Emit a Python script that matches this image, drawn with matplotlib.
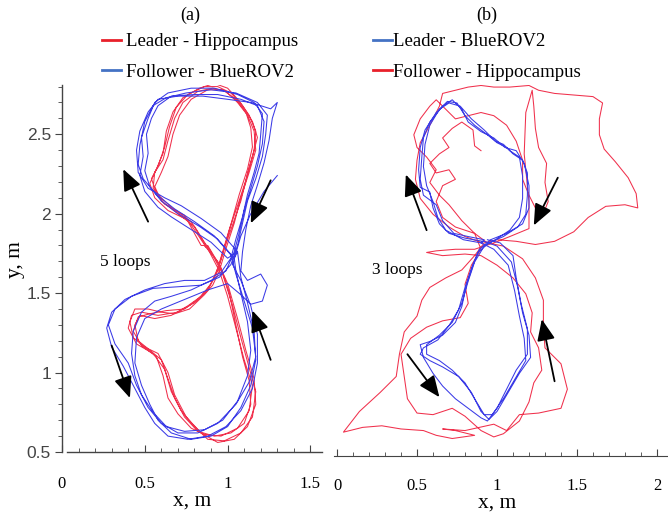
import numpy as np
import matplotlib.pyplot as plt
from matplotlib.lines import Line2D
from matplotlib.ticker import MultipleLocator

RED = '#F0304C'
BLUE = '#3A3AE6'

# (a) Leader - Hippocampus, 4 loops (x, y in m)
hippo_a_1 = [(0.88,1.78),(0.78,1.95),(0.66,2.04),(0.57,2.13),(0.54,2.22),(0.58,2.30),(0.62,2.42),(0.65,2.55),
             (0.69,2.67),(0.76,2.75),(0.86,2.80),(0.94,2.80),(1.02,2.76),(1.09,2.68),(1.15,2.58),(1.18,2.48),
             (1.15,2.36),(1.11,2.21),(1.06,2.05),(1.01,1.90),(0.97,1.76),(0.93,1.62),(0.88,1.52),(0.80,1.44),
             (0.70,1.38),(0.58,1.36),(0.48,1.38),(0.42,1.36),(0.40,1.28),(0.45,1.18),(0.55,1.12),(0.62,1.02),
             (0.66,0.88),(0.72,0.76),(0.80,0.66),(0.88,0.58),(0.98,0.57),(1.08,0.62),(1.15,0.72),(1.17,0.88),
             (1.13,1.03),(1.08,1.22),(1.03,1.42),(0.97,1.62),(0.90,1.76)]
hippo_a_2 = [(0.86,1.82),(0.80,1.92),(0.70,2.00),(0.60,2.08),(0.56,2.17),(0.60,2.26),(0.64,2.36),(0.67,2.50),
             (0.71,2.62),(0.78,2.72),(0.88,2.78),(0.97,2.78),(1.05,2.72),(1.11,2.64),(1.14,2.54),(1.15,2.42),
             (1.12,2.28),(1.07,2.12),(1.03,1.97),(0.99,1.82),(0.95,1.68),(0.90,1.56),(0.84,1.48),(0.76,1.42),
             (0.66,1.36),(0.56,1.34),(0.47,1.36),(0.44,1.30),(0.46,1.20),(0.52,1.15),(0.60,1.08),(0.64,0.96),
             (0.68,0.84),(0.74,0.72),(0.82,0.63),(0.92,0.60),(1.02,0.62),(1.10,0.68),(1.14,0.80),(1.13,0.95),
             (1.09,1.10),(1.05,1.30),(1.01,1.50),(0.96,1.66),(0.88,1.80)]
hippo_a_3 = [(0.84,1.80),(0.74,1.99),(0.62,2.06),(0.55,2.16),(0.56,2.26),(0.61,2.34),(0.64,2.46),(0.68,2.60),
             (0.73,2.70),(0.82,2.77),(0.91,2.79),(0.99,2.77),(1.06,2.70),(1.12,2.62),(1.16,2.52),(1.17,2.40),
             (1.13,2.26),(1.08,2.10),(1.04,1.94),(0.99,1.78),(0.95,1.64),(0.91,1.55),(0.86,1.49),(0.77,1.40),
             (0.68,1.37),(0.60,1.38),(0.52,1.40),(0.44,1.40),(0.41,1.32),(0.43,1.22),(0.50,1.16),(0.58,1.12),
             (0.64,1.00),(0.68,0.86),(0.75,0.72),(0.84,0.62),(0.94,0.56),(1.04,0.58),(1.12,0.66),(1.17,0.80),
             (1.16,0.96),(1.11,1.14),(1.06,1.34),(1.00,1.56),(0.94,1.70),(0.86,1.80)]
hippo_a_4 = [(0.87,1.79),(0.76,1.96),(0.64,2.02),(0.56,2.10),(0.53,2.19),(0.57,2.28),(0.61,2.38),(0.63,2.52),
             (0.67,2.64),(0.73,2.73),(0.83,2.79),(0.92,2.82),(1.00,2.79),(1.07,2.71),(1.13,2.62),(1.17,2.52),
             (1.16,2.40),(1.12,2.25),(1.08,2.08),(1.03,1.93),(0.98,1.78),(0.94,1.64),(0.89,1.54),(0.82,1.46),
             (0.74,1.40),(0.63,1.39),(0.53,1.37),(0.46,1.35),(0.43,1.26),(0.48,1.17),(0.57,1.10),(0.61,0.98),
             (0.64,0.84),(0.70,0.74),(0.78,0.65),(0.86,0.61),(0.96,0.60),(1.06,0.65),(1.13,0.76),(1.15,0.92),
             (1.10,1.08),(1.05,1.28),(1.00,1.48),(0.95,1.64),(0.88,1.78)]

# (a) Follower - BlueROV2
rov_a_1 = [(1.02,1.74),(0.92,1.86),(0.80,1.95),(0.68,2.03),(0.57,2.12),(0.49,2.22),(0.46,2.31),(0.47,2.43),
           (0.50,2.58),(0.55,2.68),(0.63,2.73),(0.75,2.76),(0.90,2.78),(1.05,2.76),(1.18,2.70),(1.24,2.62),
           (1.23,2.50),(1.21,2.36),(1.17,2.22),(1.12,2.08),(1.09,1.94),(1.06,1.80),(1.02,1.68),(0.95,1.60),
           (0.84,1.55),(0.70,1.54),(0.55,1.53),(0.42,1.48),(0.32,1.40),(0.28,1.30),(0.32,1.18),(0.40,1.06),
           (0.45,0.92),(0.52,0.78),(0.60,0.68),(0.70,0.62),(0.82,0.62),(0.94,0.68),(1.05,0.80),(1.13,0.94),
           (1.17,1.10),(1.15,1.28),(1.10,1.45),(1.05,1.62),(1.02,1.74)]
rov_a_2 = [(1.04,1.72),(0.94,1.84),(0.83,1.92),(0.70,2.00),(0.60,2.08),(0.53,2.17),(0.50,2.27),(0.52,2.38),
           (0.51,2.50),(0.54,2.60),(0.58,2.68),(0.66,2.74),(0.80,2.75),(0.94,2.75),(1.08,2.72),(1.18,2.68),
           (1.22,2.58),(1.21,2.44),(1.18,2.30),(1.14,2.16),(1.10,2.02),(1.07,1.88),(1.04,1.76),(0.99,1.64),
           (0.90,1.58),(0.78,1.52),(0.66,1.48),(0.56,1.45),(0.48,1.38),(0.43,1.26),(0.42,1.12),(0.44,0.98),
           (0.48,0.86),(0.55,0.75),(0.63,0.66),(0.74,0.63),(0.86,0.64),(0.97,0.70),(1.06,0.82),(1.12,0.98),
           (1.14,1.14),(1.12,1.32),(1.08,1.50),(1.05,1.64),(1.04,1.72)]
rov_a_3 = [(1.06,1.76),(0.96,1.88),(0.84,1.97),(0.72,2.05),(0.62,2.10),(0.52,2.16),(0.46,2.26),(0.45,2.40),
           (0.47,2.52),(0.52,2.64),(0.58,2.72),(0.70,2.74),(0.85,2.74),(1.00,2.72),(1.14,2.70),(1.26,2.66),
           (1.30,2.70),(1.27,2.60),(1.25,2.46),(1.22,2.32),(1.18,2.18),(1.14,2.05),(1.11,1.90),(1.09,1.76),
           (1.08,1.64),(1.12,1.58),(1.20,1.62),(1.24,1.55),(1.21,1.45),(1.14,1.43),(1.08,1.49),(1.00,1.56),
           (0.88,1.52),(0.74,1.46),(0.60,1.40),(0.50,1.34),(0.45,1.22),(0.44,1.06),(0.48,0.92),(0.53,0.80),
           (0.58,0.70),(0.66,0.62),(0.78,0.58),(0.90,0.60),(1.00,0.66),(1.08,0.78),(1.14,0.92),(1.17,1.08),
           (1.16,1.26),(1.12,1.44),(1.08,1.60),(1.06,1.76)]
rov_a_4 = [(1.00,1.72),(0.90,1.82),(0.78,1.90),(0.66,1.98),(0.58,2.04),(0.50,2.14),(0.47,2.24),(0.49,2.36),
           (0.48,2.48),(0.52,2.60),(0.56,2.70),(0.64,2.76),(0.78,2.79),(0.92,2.79),(1.06,2.75),(1.16,2.70),
           (1.21,2.63),(1.20,2.50),(1.19,2.38),(1.16,2.26),(1.12,2.12),(1.09,1.98),(1.05,1.84),(1.02,1.72),
           (0.96,1.63),(0.86,1.58),(0.74,1.58),(0.62,1.56),(0.50,1.52),(0.38,1.46),(0.30,1.38),(0.27,1.28),
           (0.30,1.16),(0.37,1.04),(0.44,0.90),(0.50,0.78),(0.56,0.68),(0.64,0.60),(0.76,0.58),(0.88,0.60),
           (0.99,0.66),(1.08,0.76),(1.15,0.90),(1.18,1.06),(1.18,1.24),(1.14,1.42),(1.08,1.58),(1.03,1.68),
           (1.08,1.86),(1.14,2.00),(1.22,2.14),(1.30,2.24)]

# (b) Leader - BlueROV2, 3 loops
rov_b_1 = [(0.91,1.85),(0.80,1.87),(0.70,1.90),(0.64,1.96),(0.60,2.06),(0.58,2.16),(0.52,2.19),(0.51,2.30),
           (0.52,2.44),(0.55,2.55),(0.62,2.66),(0.69,2.73),(0.75,2.72),(0.80,2.64),(0.86,2.58),(0.94,2.52),
           (1.00,2.47),(1.06,2.44),(1.10,2.40),(1.16,2.36),(1.19,2.28),(1.19,2.14),(1.18,2.02),(1.13,1.94),
           (1.04,1.88),(0.95,1.84),(0.88,1.78),(0.84,1.68),(0.80,1.56),(0.76,1.42),(0.70,1.32),(0.63,1.23),
           (0.54,1.18),(0.52,1.14),(0.58,1.10),(0.66,1.06),(0.76,1.00),(0.84,0.90),(0.90,0.78),(0.95,0.73),
           (1.00,0.78),(1.07,0.90),(1.14,1.02),(1.21,1.12),(1.20,1.26),(1.16,1.40),(1.13,1.56),(1.09,1.72),
           (1.00,1.82),(0.92,1.85)]
rov_b_2 = [(0.90,1.84),(0.79,1.86),(0.68,1.92),(0.63,2.00),(0.60,2.10),(0.56,2.20),(0.54,2.32),(0.55,2.46),
           (0.58,2.58),(0.64,2.68),(0.70,2.72),(0.77,2.70),(0.84,2.62),(0.92,2.55),(0.99,2.48),(1.04,2.46),
           (1.08,2.42),(1.14,2.38),(1.16,2.26),(1.16,2.12),(1.14,2.00),(1.08,1.92),(0.99,1.86),(0.92,1.82),
           (0.86,1.72),(0.82,1.60),(0.78,1.46),(0.72,1.34),(0.64,1.26),(0.56,1.20),(0.56,1.14),(0.64,1.10),
           (0.72,1.04),(0.80,0.96),(0.86,0.86),(0.92,0.76),(0.97,0.76),(1.04,0.86),(1.11,0.98),(1.18,1.10),
           (1.17,1.24),(1.14,1.38),(1.11,1.54),(1.07,1.70),(0.98,1.80),(0.90,1.84)]
rov_b_3 = [(0.92,1.86),(0.82,1.88),(0.73,1.90),(0.66,1.98),(0.62,2.08),(0.54,2.14),(0.52,2.24),(0.53,2.38),
           (0.54,2.50),(0.58,2.60),(0.66,2.70),(0.72,2.74),(0.78,2.68),(0.82,2.60),(0.90,2.54),(0.98,2.50),
           (1.05,2.44),(1.12,2.42),(1.17,2.34),(1.20,2.20),(1.20,2.06),(1.16,1.96),(1.06,1.90),(0.96,1.86),
           (0.89,1.80),(0.85,1.70),(0.81,1.58),(0.78,1.44),(0.74,1.34),(0.66,1.26),(0.58,1.22),(0.52,1.20),
           (0.54,1.12),(0.60,1.02),(0.66,0.94),(0.74,0.86),(0.82,0.80),(0.90,0.74),(0.94,0.72),(1.00,0.80),
           (1.06,0.92),(1.12,1.04),(1.19,1.14),(1.19,1.30),(1.15,1.46),(1.12,1.62),(1.10,1.76),(1.02,1.84),
           (0.94,1.86)]

# (b) Follower - Hippocampus, one wandering track
hippo_b = [(0.91,1.84),(0.80,1.88),(0.70,1.94),(0.60,2.02),(0.52,2.12),(0.49,2.24),(0.50,2.36),(0.52,2.47),
           (0.58,2.58),(0.64,2.70),(0.66,2.78),(0.74,2.80),(0.82,2.82),(0.90,2.83),(0.98,2.82),(1.08,2.82),
           (1.20,2.83),(1.26,2.80),(1.36,2.78),(1.48,2.77),(1.60,2.76),(1.66,2.72),(1.64,2.62),(1.64,2.52),
           (1.67,2.43),(1.74,2.35),(1.82,2.25),(1.87,2.15),(1.88,2.06),(1.80,2.08),(1.68,2.07),(1.57,2.00),
           (1.48,1.91),(1.36,1.85),(1.24,1.83),(1.12,1.85),(1.00,1.86),(0.92,1.84),
           (0.86,1.76),(0.78,1.67),(0.68,1.62),(0.58,1.56),(0.53,1.48),(0.50,1.38),(0.42,1.28),(0.39,1.14),
           (0.37,1.00),(0.27,0.90),(0.14,0.78),(0.04,0.65),(0.16,0.68),(0.28,0.69),(0.40,0.67),(0.54,0.66),
           (0.62,0.63),(0.72,0.61),(0.86,0.63),(0.74,0.66),(0.66,0.67),(0.80,0.66),(0.98,0.70),(1.06,0.66),
           (1.14,0.76),(1.26,0.77),(1.40,0.80),(1.44,0.92),(1.40,1.08),(1.30,1.18),(1.29,1.32),(1.29,1.48),
           (1.24,1.62),(1.16,1.74),(1.04,1.82),(0.94,1.84),
           (0.86,1.90),(0.78,1.98),(0.70,2.08),(0.64,2.14),(0.58,2.22),(0.62,2.30),(0.56,2.38),(0.50,2.44),
           (0.48,2.52),(0.52,2.62),(0.58,2.70),(0.62,2.74),(0.68,2.68),(0.74,2.62),(0.82,2.64),(0.90,2.66),
           (0.98,2.64),(1.06,2.58),(1.12,2.48),(1.16,2.36),(1.16,2.24),(1.20,2.14),(1.24,2.06),(1.28,2.00),
           (1.32,2.10),(1.30,2.22),(1.31,2.34),(1.26,2.44),(1.24,2.56),(1.23,2.70),(1.22,2.80),(1.18,2.66),
           (1.17,2.40),(1.20,2.10),(1.20,1.93),(1.08,1.88),(0.98,1.84),
           (0.86,1.80),(0.74,1.80),(0.62,1.79),(0.56,1.78),(0.66,1.76),(0.80,1.77),(0.90,1.76),(1.00,1.70),
           (1.10,1.62),(1.18,1.52),(1.22,1.40),(1.21,1.28),(1.26,1.18),(1.28,1.04),(1.23,0.96),(1.20,0.84),
           (1.14,0.72),(1.04,0.64),(0.98,0.62),(0.90,0.66),(0.80,0.75),(0.72,0.80),(0.60,0.76),(0.50,0.77),
           (0.44,0.86),(0.42,1.00),(0.40,1.14),(0.46,1.24),(0.56,1.31),(0.66,1.35),(0.77,1.37),(0.82,1.46),
           (0.80,1.58),(0.84,1.70),(0.90,1.80),
           (0.86,1.90),(0.74,1.94),(0.66,2.00),(0.62,2.10),(0.66,2.20),(0.74,2.24),(0.70,2.30),(0.62,2.28),
           (0.58,2.34),(0.64,2.40),(0.70,2.44),(0.66,2.50),(0.72,2.56),(0.78,2.60),(0.85,2.55),(0.86,2.45),
           (0.90,2.42)]

# travel direction arrows: (tail x, tail y, head x, head y)
arrows_a = [(0.52,1.95,0.37,2.28),(1.26,2.21,1.14,1.94),(1.26,1.08,1.15,1.39),(0.30,1.17,0.41,0.84)]
arrows_b = [(0.56,1.92,0.43,2.27),(1.38,2.25,1.23,1.95),(1.36,0.97,1.28,1.36),(0.44,1.14,0.64,0.87)]


def track(loops):
    pts = np.vstack([np.array(l) for l in loops])
    return pts[:, 0], pts[:, 1]


def draw_arrows(ax, arrows):
    for x0, y0, x1, y1 in arrows:
        ax.annotate('', xy=(x1, y1), xytext=(x0, y0),
                    arrowprops=dict(arrowstyle='-|>,head_length=1.3,head_width=0.55',
                                    color='k', lw=1.3, shrinkA=0, shrinkB=0))


fig = plt.figure(figsize=(6.68, 5.12), dpi=100)
serif = 'Liberation Serif'

# ---- panel (a)
ax1 = fig.add_axes([62/668, 60/512, 260/668, 367/512])
x, y = track([hippo_a_1, hippo_a_2, hippo_a_3, hippo_a_4])
ax1.plot(x, y, color=RED, lw=0.75)
x, y = track([rov_a_1, rov_a_2, rov_a_3, rov_a_4])
ax1.plot(x, y, color=BLUE, lw=0.75)
draw_arrows(ax1, arrows_a)
ax1.text(0.23, 1.695, '5 loops', family=serif, fontsize=12.5, va='center')

ax1.set_xlim(0, 1.57)
ax1.set_ylim(0.5, 2.81)
for s in ['top', 'right']:
    ax1.spines[s].set_visible(False)
ax1.spines['bottom'].set_bounds(0.03, 1.57)
for s in ['left', 'bottom']:
    ax1.spines[s].set_color('#444444')
    ax1.spines[s].set_linewidth(1.0)
ax1.xaxis.set_minor_locator(MultipleLocator(0.1))
ax1.yaxis.set_minor_locator(MultipleLocator(0.1))
ax1.set_xticks([0, 0.5, 1, 1.5])
ax1.set_xticklabels(['0', '0.5', '1', '1.5'], family=serif, fontsize=12)
ax1.set_yticks([0.5, 1, 1.5, 2, 2.5])
ax1.set_yticklabels(['0.5', '1', '1.5', '2', '2.5'], family='Liberation Sans', fontsize=12.5, color='#444444')
ax1.tick_params(axis='x', which='both', direction='in', pad=17, color='#444444')
ax1.tick_params(axis='x', which='major', length=5)
ax1.tick_params(axis='x', which='minor', length=3)
ax1.tick_params(axis='y', which='both', direction='out', pad=3, color='#444444')
ax1.tick_params(axis='y', which='major', length=5)
ax1.tick_params(axis='y', which='minor', length=3)
ax1.set_xlabel('x, m', family=serif, fontsize=15.5, va='center')
ax1.xaxis.set_label_coords(0.5, -0.135)
ax1.set_ylabel('y, m', family=serif, fontsize=15.5, va='center')
ax1.yaxis.set_label_coords(-0.18, 0.523)

# ---- panel (b)
ax2 = fig.add_axes([334/668, 56/512, 334/668, 371/512])
x, y = track([hippo_b])
ax2.plot(x, y, color=RED, lw=0.75)
x, y = track([rov_b_1, rov_b_2, rov_b_3])
ax2.plot(x, y, color=BLUE, lw=0.75)
draw_arrows(ax2, arrows_b)
ax2.text(0.22, 1.67, '3 loops', family=serif, fontsize=12.5, va='center')

ax2.set_xlim(-0.019, 2.069)
ax2.set_ylim(0.5, 2.833)
for s in ['top', 'right', 'left']:
    ax2.spines[s].set_visible(False)
ax2.spines['bottom'].set_color('#444444')
ax2.set_yticks([])
ax2.set_xticks([0, 0.5, 1, 1.5, 2])
ax2.set_xticklabels(['0', '0.5', '1', '1.5', '2'], family=serif, fontsize=12)
ax2.xaxis.set_minor_locator(MultipleLocator(0.1))
ax2.tick_params(axis='x', which='both', direction='in', pad=16, color='#444444')
ax2.tick_params(axis='x', which='major', length=5)
ax2.tick_params(axis='x', which='minor', length=3)
ax2.set_xlabel('x, m', family=serif, fontsize=15.5, va='center')
ax2.xaxis.set_label_coords(0.488, -0.128)

# ---- titles and legends
fig.text(190/668, 1 - 15/512, '(a)', family=serif, fontsize=13, ha='center', va='center')
fig.text(487/668, 1 - 15/512, '(b)', family=serif, fontsize=13, ha='center', va='center')

leg_kw = dict(loc='center left', frameon=False, borderpad=0, borderaxespad=0,
              handlelength=1.0, handletextpad=0.3, labelspacing=0.7,
              prop={'family': serif, 'size': 13.5})
fig.legend([Line2D([], [], color='#E8202A', lw=2), Line2D([], [], color='#4472C4', lw=2)],
           ['Leader - Hippocampus', 'Follower - BlueROV2'],
           bbox_to_anchor=(102/668, 1 - 57/512), **leg_kw)
leg_kw['handletextpad'] = 0.05
fig.legend([Line2D([], [], color='#4472C4', lw=2), Line2D([], [], color='#E8202A', lw=2)],
           ['Leader - BlueROV2', 'Follower - Hippocampus'],
           bbox_to_anchor=(373/668, 1 - 57/512), **leg_kw)

fig.savefig('out.png', dpi=100)
